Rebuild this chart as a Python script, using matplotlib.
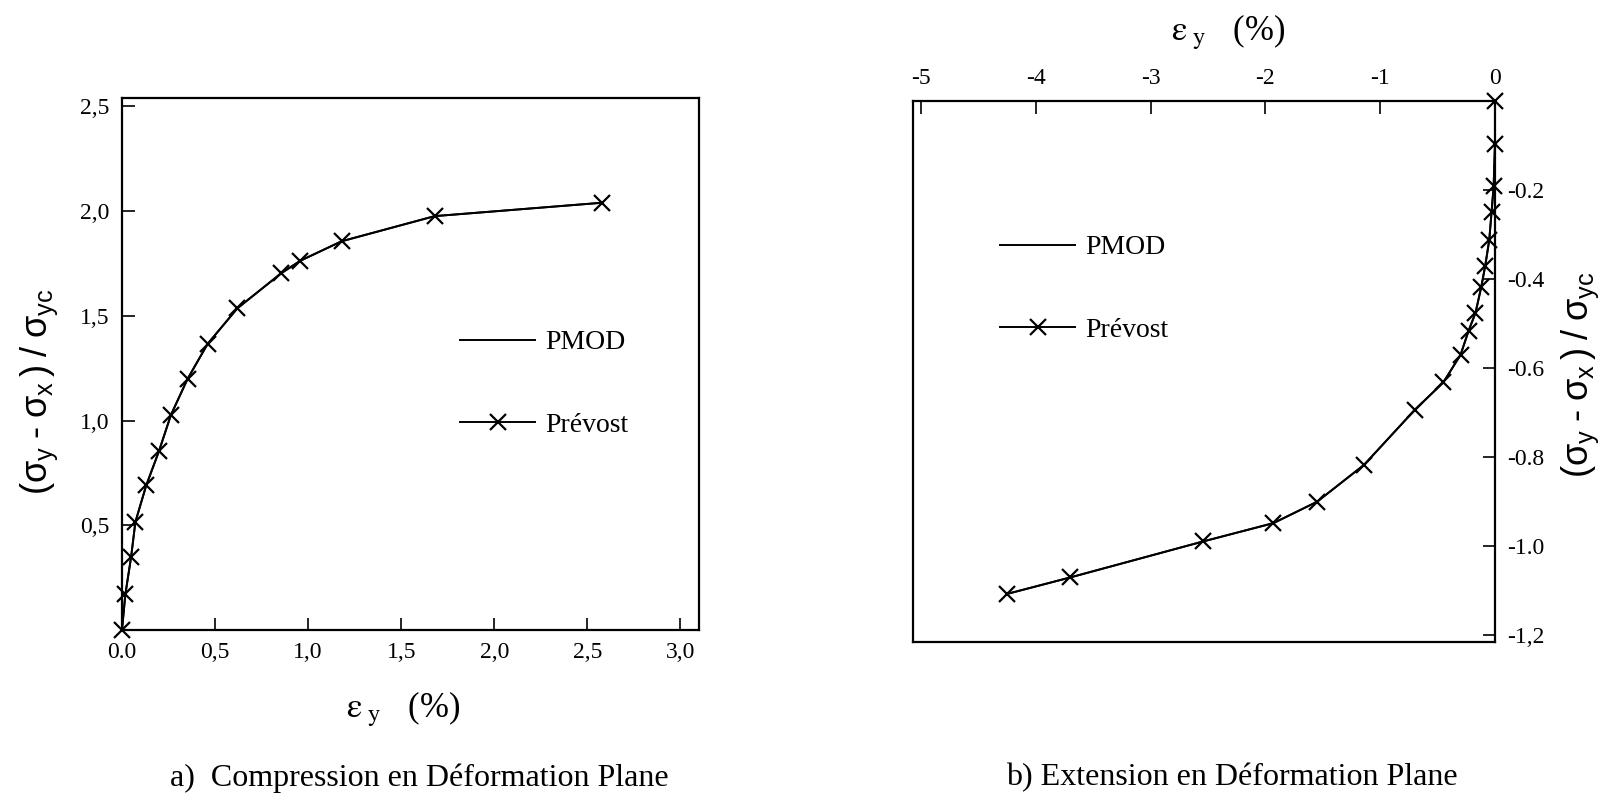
import matplotlib
matplotlib.use("Agg")
import matplotlib.pyplot as plt
from matplotlib.lines import Line2D

plt.rcParams['font.family'] = ['Liberation Serif', 'DejaVu Serif']
plt.rcParams['mathtext.fontset'] = 'stix'
plt.rcParams['mathtext.rm'] = 'Liberation Sans'
plt.rcParams['mathtext.it'] = 'Liberation Sans:italic'

# a) compression en deformation plane
eps_comp = [0.0, 0.018, 0.049, 0.072, 0.13, 0.199, 0.263, 0.353, 0.46, 0.62,
            0.855, 0.958, 1.18, 1.68, 2.58]
q_prevost_comp = [0.0, 0.17, 0.349, 0.516, 0.69, 0.855, 1.027, 1.20, 1.366, 1.536,
                  1.703, 1.763, 1.856, 1.976, 2.04]
q_pmod_comp = [0.0, 0.17, 0.349, 0.516, 0.69, 0.855, 1.027, 1.20, 1.366, 1.536,
               1.703, 1.763, 1.856, 1.976, 2.04]

# b) extension en deformation plane
eps_ext = [0.0, 0.0, -0.012, -0.03, -0.05, -0.085, -0.12, -0.17, -0.23, -0.30,
           -0.45, -0.70, -1.14, -1.55, -1.93, -2.54, -3.70, -4.25]
q_prevost_ext = [0.0, -0.097, -0.192, -0.25, -0.312, -0.37, -0.418, -0.476, -0.516, -0.570,
                 -0.632, -0.694, -0.817, -0.90, -0.948, -0.989, -1.07, -1.107]
q_pmod_ext = list(q_prevost_ext)

xticks_a = [0.0, 0.5, 1.0, 1.5, 2.0, 2.5, 3.0]
xticklabels_a = ['0.0', '0,5', '1,0', '1,5', '2,0', '2,5', '3,0']
yticks_a = [0.5, 1.0, 1.5, 2.0, 2.5]
yticklabels_a = ['0,5', '1,0', '1,5', '2,0', '2,5']
xticks_b = [-5, -4, -3, -2, -1, 0]
xticklabels_b = ['-5', '-4', '-3', '-2', '-1', '0']
yticks_b = [-0.2, -0.4, -0.6, -0.8, -1.0, -1.2]
yticklabels_b = ['-0.2', '-0.4', '-0.6', '-0.8', '-1.0', '-1,2']

W, H = 1611, 794
fig = plt.figure(figsize=(W / 100, H / 100), dpi=100)


def box(l, t, r, b):
    return [l / W, 1 - b / H, (r - l) / W, (b - t) / H]


ax1 = fig.add_axes(box(122, 98, 699, 630))
ax2 = fig.add_axes(box(913, 101, 1495, 642))

mk = dict(marker='x', markersize=11, markeredgewidth=1.6, color='black')
eps_label = r'$\mathrm{ε}_{\ \mathrm{y}}$   (%)'
sig_label = r'$\mathrm{(σ_y\;\text{-}\;σ_x\,)\;/\;σ_{yc}}$'

for ax in (ax1, ax2):
    for s in ax.spines.values():
        s.set_linewidth(1.6)
    ax.tick_params(direction='in', length=9, width=1.2, labelsize=17, pad=9)

# left panel
ax1.plot(eps_comp, q_pmod_comp, color='black', lw=1.4)
ax1.plot(eps_comp, q_prevost_comp, lw=1.4, clip_on=False, **mk)
ax1.set_xlim(0, 3.10)
ax1.set_ylim(0, 2.54)
ax1.set_xticks(xticks_a, xticklabels_a)
ax1.set_yticks(yticks_a, yticklabels_a)
ax1.set_xlabel(eps_label, fontsize=25, math_fontfamily='stix', va='center')
ax1.xaxis.set_label_coords((403 - 122) / 577, (630 - 709) / 532)
ax1.set_ylabel(sig_label, fontsize=26, math_fontfamily='custom', va='center')
ax1.yaxis.set_label_coords((39 - 122) / 577, (630 - 392) / 532)

handles = [Line2D([], [], color='black', lw=1.4),
           Line2D([], [], lw=1.4, **mk)]
leg_kw = dict(loc='upper left', frameon=False, fontsize=20, handlelength=2.7,
              handletextpad=0.35, labelspacing=2.05, borderpad=0, borderaxespad=0)
ax1.legend(handles, ['PMOD', 'Prévost'], bbox_to_anchor=((460 - 122) / 577, (630 - 330) / 532),
           **leg_kw)

# right panel
ax2.plot(eps_ext, q_pmod_ext, color='black', lw=1.4)
ax2.plot(eps_ext, q_prevost_ext, lw=1.4, clip_on=False, **mk)
ax2.set_xlim(-5.07, 0)
ax2.set_ylim(-1.215, 0)
ax2.xaxis.tick_top()
ax2.xaxis.set_label_position('top')
ax2.yaxis.tick_right()
ax2.yaxis.set_label_position('right')
ax2.set_xticks(xticks_b, xticklabels_b)
ax2.set_yticks(yticks_b, yticklabels_b)
ax2.set_xlabel(eps_label, fontsize=25, math_fontfamily='stix', va='center')
ax2.xaxis.set_label_coords((1228 - 913) / 582, (642 - 32) / 541)
ax2.set_ylabel(sig_label, fontsize=26, math_fontfamily='custom', va='center')
ax2.yaxis.set_label_coords((1580 - 913) / 582, (642 - 375) / 541)

ax2.legend(handles, ['PMOD', 'Prévost'], bbox_to_anchor=((1000 - 913) / 582, (642 - 235) / 541),
           **leg_kw)

fig.text(419 / W, 1 - 778 / H, 'a)  Compression en Déformation Plane',
         ha='center', va='center', fontsize=23)
fig.text(1232 / W, 1 - 778 / H, 'b) Extension en Déformation Plane',
         ha='center', va='center', fontsize=23)

fig.savefig('out.png', dpi=100, facecolor='white')
